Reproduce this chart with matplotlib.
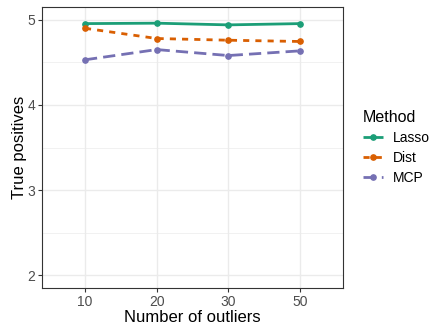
import matplotlib
matplotlib.use("Agg")
import matplotlib.pyplot as plt

# data
outliers = ["10", "20", "30", "50"]
lasso = [4.955, 4.96, 4.94, 4.955]
dist = [4.90, 4.78, 4.76, 4.745]
mcp = [4.53, 4.65, 4.58, 4.635]
methods = ["Lasso", "Dist", "MCP"]
colors = ["#1B9E77", "#D95F02", "#7570B3"]

plt.rcParams["font.family"] = ["Liberation Sans", "DejaVu Sans"]

W, H = 431, 325
fig = plt.figure(figsize=(W / 100, H / 100), dpi=100)
ax = fig.add_axes([42 / W, (H - 288) / H, (343 - 42) / W, (288 - 7) / H])

x = range(len(outliers))
styles = [(0, ()), (0, (2.2, 2.2)), (0, (4.4, 2.2))]
lines = []
for vals, col, ls, name in zip([lasso, dist, mcp], colors, styles, methods):
    ln, = ax.plot(x, vals, color=col, lw=2, linestyle=ls, marker="o",
                  markersize=3.8, label=name, zorder=3)
    lines.append(ln)

ax.set_xlim(-0.6, 3.6)
ax.set_ylim(1.85, 5.15)
ax.set_xticks(list(x))
ax.set_xticklabels(outliers)
ax.set_yticks([2, 3, 4, 5])
ax.set_yticks([2.5, 3.5, 4.5], minor=True)

ax.grid(True, which="major", color="#EBEBEB", lw=1.0, zorder=0)
ax.grid(True, which="minor", axis="y", color="#EBEBEB", lw=0.5, zorder=0)
ax.set_axisbelow(True)
for s in ax.spines.values():
    s.set_color("#333333")
    s.set_linewidth(0.8)
ax.tick_params(axis="both", which="major", colors="#333333", labelcolor="#4D4D4D",
               labelsize=10, length=3, width=0.8, pad=2)
ax.tick_params(axis="both", which="minor", length=0)

ax.set_xlabel("Number of outliers", fontsize=12, labelpad=1)
ax.set_ylabel("True positives", fontsize=12, labelpad=0)

leg = fig.legend(handles=lines, labels=methods, title="Method",
                 loc="upper left", bbox_to_anchor=(350 / W, 1 - 97 / H),
                 frameon=False, fontsize=10, title_fontsize=11.5,
                 handlelength=1.5, handletextpad=0.7, labelspacing=0.45)
leg._legend_box.align = "left"

fig.savefig("out.png", dpi=100)
